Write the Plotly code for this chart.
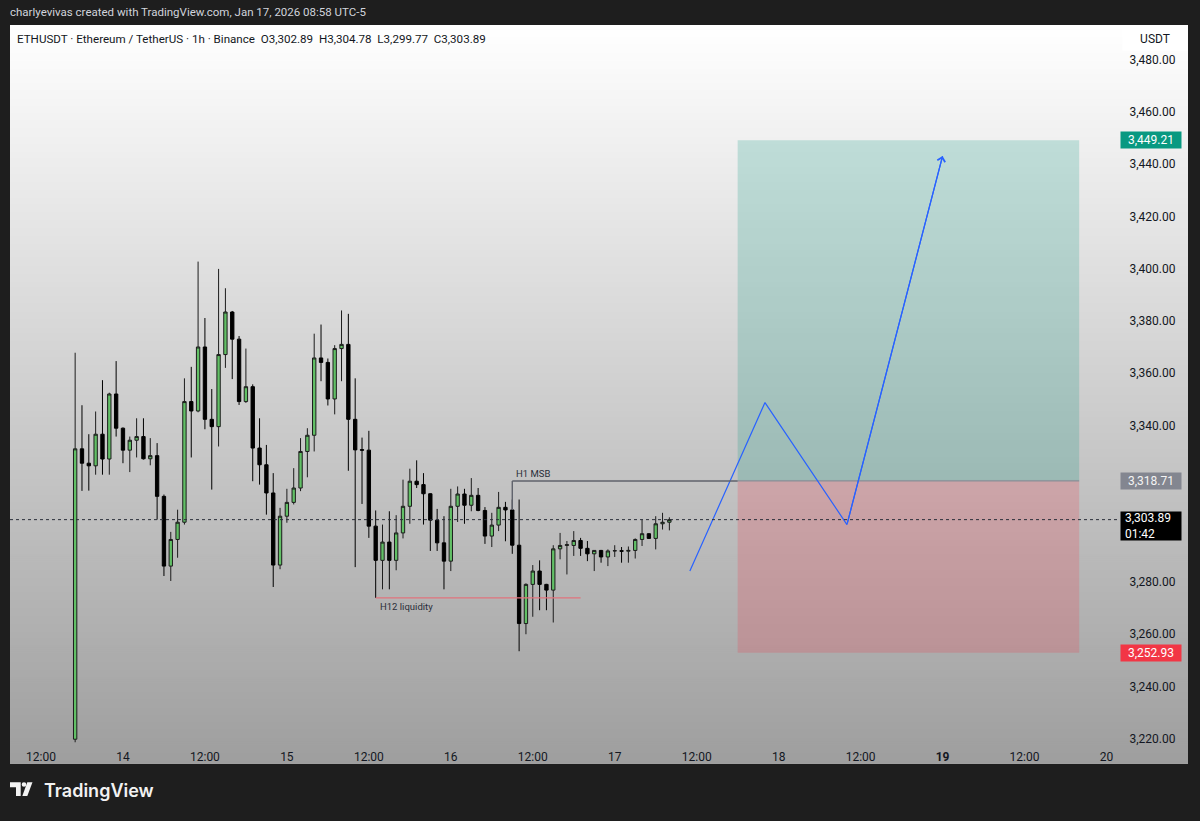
import plotly.graph_objects as go
import pandas as pd

W, H = 1200, 821

# ---------------- data ----------------
times = pd.date_range("2026-01-13 17:00", periods=88, freq="h")
opens = [3219.8, 3331.0, 3325.5, 3324.5, 3336.6, 3327.1, 3352.0, 3338.9, 3330.5, 3334.3,
         3335.7, 3327.2, 3328.4, 3312.8, 3286.1, 3296.3, 3302.9, 3349.1, 3345.5, 3370.0,
         3342.3, 3339.5, 3367.1, 3383.4, 3373.0, 3349.1, 3354.8, 3331.3, 3324.9, 3314.1,
         3286.5, 3305.2, 3310.5, 3316.0, 3330.0, 3336.2, 3365.8, 3364.1, 3350.1, 3369.4,
         3371.0, 3342.3, 3330.7, 3330.5, 3301.4, 3288.3, 3295.3, 3288.3, 3298.8, 3309.0,
         3318.6, 3317.3, 3313.8, 3303.7, 3295.0, 3288.0, 3309.0, 3313.7, 3309.4, 3313.2,
         3307.4, 3297.6, 3301.8, 3308.6, 3307.6, 3294.1, 3264.1, 3279.1, 3284.2, 3279.1,
         3276.9, 3292.7, 3294.0, 3294.0, 3295.9, 3292.9, 3290.8, 3292.1, 3289.6, 3291.9,
         3292.0, 3291.8, 3292.1, 3296.3, 3298.5, 3296.7, 3302.3, 3302.89]
highs = [3367.8, 3347.7, 3336.6, 3345.3, 3357.3, 3352.5, 3364.6, 3339.2, 3335.7, 3342.7,
         3342.7, 3335.1, 3333.2, 3313.5, 3299.2, 3307.7, 3358.0, 3362.4, 3402.7, 3381.1,
         3353.9, 3399.9, 3392.5, 3383.8, 3374.2, 3369.4, 3355.7, 3342.7, 3332.5, 3321.7,
         3308.4, 3315.7, 3323.6, 3335.1, 3338.9, 3375.1, 3378.6, 3365.6, 3370.7, 3384.0,
         3382.7, 3358.0, 3335.3, 3337.9, 3307.4, 3302.0, 3307.1, 3305.6, 3319.2, 3323.4,
         3326.6, 3321.7, 3314.0, 3308.0, 3305.2, 3315.7, 3316.6, 3315.7, 3319.8, 3316.0,
         3308.7, 3306.5, 3314.5, 3310.7, 3311.6, 3311.6, 3279.5, 3286.5, 3288.3, 3279.3,
         3294.1, 3298.8, 3295.7, 3299.5, 3296.9, 3295.7, 3292.2, 3292.3, 3292.5, 3294.1,
         3293.4, 3293.6, 3296.7, 3303.9, 3298.7, 3305.2, 3306.5, 3304.78]
lows = [3212.0, 3314.9, 3315.0, 3321.1, 3321.1, 3321.1, 3335.7, 3325.5, 3322.1, 3327.7,
        3326.9, 3324.7, 3303.9, 3282.3, 3280.4, 3289.3, 3302.0, 3327.7, 3345.0, 3338.5,
        3315.4, 3331.9, 3362.0, 3357.7, 3347.8, 3348.6, 3318.6, 3317.3, 3305.8, 3278.1,
        3284.9, 3302.7, 3309.7, 3314.8, 3320.1, 3330.0, 3356.9, 3347.6, 3344.2, 3356.9,
        3322.6, 3285.7, 3309.9, 3296.9, 3273.9, 3277.2, 3277.2, 3284.5, 3296.7, 3302.3,
        3316.0, 3302.0, 3291.9, 3291.9, 3277.2, 3284.2, 3303.0, 3302.3, 3307.1, 3307.1,
        3294.6, 3293.4, 3299.5, 3295.6, 3290.8, 3253.5, 3260.0, 3266.7, 3269.2, 3269.2,
        3264.5, 3288.7, 3282.9, 3290.0, 3290.0, 3288.0, 3284.2, 3287.4, 3286.1, 3289.6,
        3287.4, 3287.4, 3289.0, 3293.8, 3296.5, 3292.5, 3300.1, 3299.77]
closes = [3331.0, 3325.5, 3324.5, 3336.6, 3327.1, 3352.0, 3338.9, 3330.5, 3334.3, 3335.7,
          3327.2, 3328.4, 3312.8, 3286.1, 3296.3, 3302.9, 3349.1, 3345.5, 3370.0, 3342.3,
          3339.5, 3367.1, 3383.4, 3373.0, 3349.1, 3354.8, 3331.3, 3324.9, 3314.1, 3286.5,
          3305.2, 3310.5, 3316.0, 3330.0, 3336.2, 3365.8, 3364.1, 3350.1, 3369.4, 3371.0,
          3342.3, 3330.6, 3330.5, 3301.4, 3288.3, 3295.3, 3288.3, 3298.8, 3309.0, 3318.6,
          3317.3, 3313.8, 3303.7, 3295.0, 3288.0, 3309.0, 3313.7, 3309.4, 3313.2, 3307.4,
          3297.6, 3301.8, 3308.6, 3307.6, 3294.1, 3264.1, 3279.1, 3284.2, 3279.1, 3276.9,
          3292.7, 3294.0, 3294.3, 3295.9, 3292.9, 3290.8, 3292.1, 3289.6, 3291.9, 3292.0,
          3291.8, 3292.1, 3296.3, 3298.5, 3296.7, 3302.3, 3302.89, 3303.89]

tick_times = ["2026-01-13 12:00", "2026-01-14 00:00", "2026-01-14 12:00", "2026-01-15 00:00",
              "2026-01-15 12:00", "2026-01-16 00:00", "2026-01-16 12:00", "2026-01-17 00:00",
              "2026-01-17 12:00", "2026-01-18 00:00", "2026-01-18 12:00", "2026-01-19 00:00",
              "2026-01-19 12:00", "2026-01-20 00:00"]
tick_text = ["12:00", "14", "12:00", "15", "12:00", "16", "12:00", "17",
             "12:00", "18", "12:00", "<b>19</b>", "12:00", "20"]
price_ticks = [3220, 3240, 3260, 3280, 3340, 3360, 3380, 3400, 3420, 3440, 3460, 3480]

entry_price = 3318.71
target_price = 3449.21
stop_price = 3252.93
last_price = 3303.89
box_start, box_end = "2026-01-17 18:00", "2026-01-19 20:00"
msb_start, msb_low = "2026-01-16 09:00", 3307.6
liq_start, liq_end, liq_price = "2026-01-15 13:00", "2026-01-16 19:00", 3273.9
path_times = ["2026-01-17 11:00", "2026-01-17 22:00", "2026-01-18 10:00", "2026-01-19 00:00"]
path_prices = [3284.2, 3348.7, 3302.0, 3443.1]

# ---------------- helpers ----------------
def px(x):
    return x / W

def py(y):
    return 1 - y / H

FONT = "Roboto, Inter, Arial, sans-serif"
DARK = "#131722"

fig = go.Figure()

fig.add_trace(go.Candlestick(
    x=times, open=opens, high=highs, low=lows, close=closes,
    increasing=dict(fillcolor="#62c066", line=dict(color="#1c1c1c", width=1)),
    decreasing=dict(fillcolor="#000000", line=dict(color="#000000", width=1)),
    whiskerwidth=0, showlegend=False, hoverinfo="skip",
))

# projected path
fig.add_trace(go.Scatter(
    x=path_times, y=path_prices, mode="lines",
    line=dict(color="#2962ff", width=1.2), showlegend=False, hoverinfo="skip",
))

shapes = []
# gradient background: stacked bands, each reaching the panel bottom (no seams)
top, bot = 25, 767
step = 2
yy = top
while yy < bot:
    t = (yy - top) / (bot - top)
    c = int(round(255 - t * 97))
    shapes.append(dict(type="rect", xref="paper", yref="paper", layer="below",
                       x0=px(10), x1=px(1188), y0=py(bot), y1=py(yy),
                       fillcolor=f"rgb({c},{c},{c})", line=dict(width=0)))
    yy += step

# position tool boxes
shapes.append(dict(type="rect", xref="x", yref="y", layer="below",
                   x0=box_start, x1=box_end, y0=entry_price, y1=target_price,
                   fillcolor="rgba(8,153,129,0.21)", line=dict(width=0)))
shapes.append(dict(type="rect", xref="x", yref="y", layer="below",
                   x0=box_start, x1=box_end, y0=stop_price, y1=entry_price,
                   fillcolor="rgba(242,54,69,0.21)", line=dict(width=0)))
shapes.append(dict(type="line", xref="x", yref="y", layer="below",
                   x0=box_start, x1=box_end, y0=entry_price, y1=entry_price,
                   line=dict(color="#8a8d96", width=1.2)))
# H1 MSB
shapes.append(dict(type="line", xref="x", yref="y", layer="above",
                   x0=msb_start, x1=msb_start, y0=msb_low, y1=entry_price,
                   line=dict(color="#5f626b", width=1.4)))
shapes.append(dict(type="line", xref="x", yref="y", layer="above",
                   x0=msb_start, x1=box_start, y0=entry_price, y1=entry_price,
                   line=dict(color="#5f626b", width=1.4)))
# H12 liquidity
shapes.append(dict(type="line", xref="x", yref="y", layer="above",
                   x0=liq_start, x1=liq_end, y0=liq_price, y1=liq_price,
                   line=dict(color="#e0737c", width=1.2)))
# last price dotted line
shapes.append(dict(type="line", xref="paper", yref="y", layer="above",
                   x0=px(10), x1=px(1120), y0=last_price, y1=last_price,
                   line=dict(color="#2a2e39", width=1, dash="dot")))

# TradingView logo icon
logo_col = "#f2f2f2"
shapes.append(dict(type="path", xref="paper", yref="paper", layer="above",
                   path=(f"M {px(10)} {py(786)} L {px(20.7)} {py(786)} L {px(20.7)} {py(800)} "
                         f"L {px(16)} {py(800)} L {px(16)} {py(791)} L {px(10)} {py(791)} Z"),
                   fillcolor=logo_col, line=dict(width=0)))
shapes.append(dict(type="circle", xref="paper", yref="paper", layer="above",
                   x0=px(21.7), x1=px(26.3), y0=py(790.6), y1=py(786),
                   fillcolor=logo_col, line=dict(width=0)))
shapes.append(dict(type="path", xref="paper", yref="paper", layer="above",
                   path=(f"M {px(27.3)} {py(786)} L {px(32.5)} {py(786)} L {px(27.3)} {py(800)} "
                         f"L {px(22.3)} {py(800)} Z"),
                   fillcolor=logo_col, line=dict(width=0)))

annotations = []
# header
annotations.append(dict(xref="paper", yref="paper", x=px(8), y=py(12), xanchor="left", yanchor="middle",
                        text="charlyevivas created with TradingView.com, Jan 17, 2026 08:58 UTC-5",
                        showarrow=False, font=dict(family=FONT, size=11.5, color="#d1d4dc")))
# legend line
annotations.append(dict(xref="paper", yref="paper", x=px(15), y=py(39.5), xanchor="left", yanchor="middle",
                        text="ETHUSDT · Ethereum / TetherUS · 1h · Binance  O3,302.89  H3,304.78  L3,299.77  C3,303.89",
                        showarrow=False, font=dict(family=FONT, size=11.6, color=DARK)))
# USDT box
annotations.append(dict(xref="paper", yref="paper", x=px(1155), y=py(39), xanchor="center", yanchor="middle",
                        text="USDT", showarrow=False, bgcolor="#ffffff", width=60, height=18, borderpad=2,
                        font=dict(family=FONT, size=12, color=DARK)))
# TradingView wordmark
annotations.append(dict(xref="paper", yref="paper", x=px(42), y=py(794), xanchor="left", yanchor="middle",
                        text="TradingView", showarrow=False,
                        font=dict(family="Inter, Roboto, sans-serif", size=18, color=logo_col, weight=600)))
# drawing labels
annotations.append(dict(xref="x", yref="y", x=msb_start, y=entry_price, xanchor="left", yanchor="bottom",
                        xshift=2, yshift=0, text="H1 MSB", showarrow=False,
                        font=dict(family=FONT, size=9.5, color="#2a2e39")))
annotations.append(dict(xref="x", yref="y", x=liq_start, y=liq_price, xanchor="left", yanchor="top",
                        xshift=2, yshift=-1, text="H12 liquidity", showarrow=False,
                        font=dict(family=FONT, size=9.5, color="#2a2e39")))
# arrow head on projected path
annotations.append(dict(xref="x", yref="y", axref="x", ayref="y",
                        x=path_times[3], y=path_prices[3], ax=path_times[2], ay=path_prices[2],
                        text="", showarrow=True, arrowhead=4, arrowsize=1.3, arrowwidth=1.2,
                        arrowcolor="#2962ff"))

# price badges
def badge(price, text, bg, fg, h=14):
    return dict(xref="paper", yref="y", x=px(1120), y=price, xanchor="left", yanchor="middle",
                text=text, showarrow=False, bgcolor=bg, width=58, height=h, borderpad=1, align="center",
                font=dict(family=FONT, size=12, color=fg))

annotations.append(badge(target_price, "3,449.21", "#089981", "#ffffff"))
annotations.append(badge(entry_price, "3,318.71", "#838690", "#f4f4f4"))
annotations.append(badge(stop_price, "3,252.93", "#f23645", "#ffffff"))
annotations.append(dict(xref="paper", yref="paper", x=px(1120), y=py(514), xanchor="left", yanchor="top",
                        text="&nbsp;3,303.89<br>&nbsp;01:42", showarrow=False, bgcolor="#000000",
                        width=58, height=26, borderpad=1, align="left",
                        font=dict(family=FONT, size=12, color="#ffffff")))

fig.update_layout(
    width=W, height=H, margin=dict(l=0, r=0, t=0, b=0),
    paper_bgcolor="#1e1e1e", plot_bgcolor="rgba(0,0,0,0)",
    shapes=shapes, annotations=annotations, showlegend=False, hovermode=False,
    xaxis=dict(domain=[px(10), px(1116)], type="date",
               range=["2026-01-13 07:27:40", "2026-01-20 01:23:30"],
               rangeslider=dict(visible=False), showgrid=False, zeroline=False, showline=False,
               tickmode="array", tickvals=tick_times, ticktext=tick_text,
               ticks="outside", ticklen=3, tickcolor="rgba(0,0,0,0)",
               tickfont=dict(family=FONT, size=12, color=DARK), fixedrange=True),
    yaxis=dict(domain=[py(746), py(25)], range=[3218.6, 3493.35], side="right",
               showgrid=False, zeroline=False, showline=False,
               tickmode="array", tickvals=price_ticks,
               ticktext=[f"{v:,.2f}" for v in price_ticks],
               ticks="outside", ticklen=10, tickcolor="rgba(0,0,0,0)",
               tickfont=dict(family=FONT, size=12, color=DARK), fixedrange=True),
)

fig.write_html("out.html", config={"displayModeBar": False},
               post_script="document.body.style.margin='0';document.body.style.background='#1e1e1e';")
